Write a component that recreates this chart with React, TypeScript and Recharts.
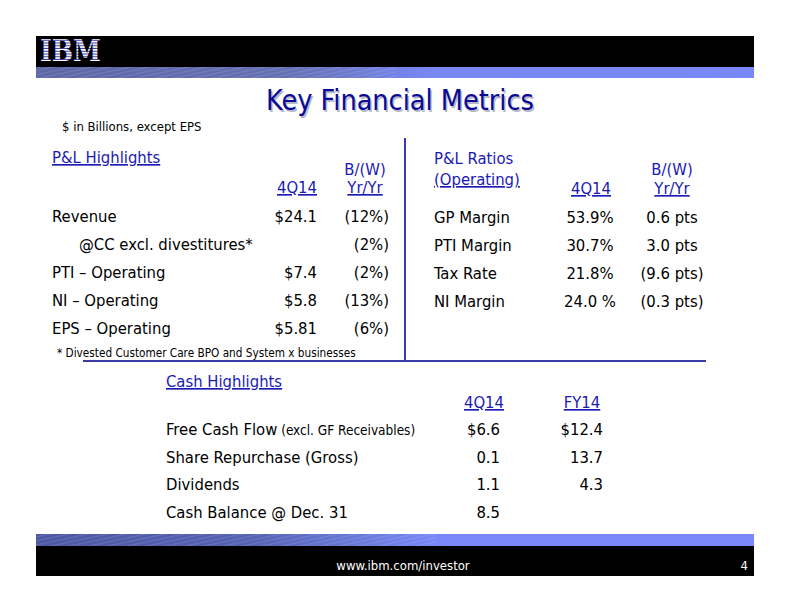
import { Surface, Layer, Text } from 'recharts';

// Slide copy
const title = 'Key Financial Metrics';
const unitsNote = '$ in Billions, except EPS';
const footnote = '* Divested Customer Care BPO and System x businesses';
const footerUrl = 'www.ibm.com/investor';
const pageNo = '4';

// P&L Highlights table
const plRows = ['Revenue', '@CC excl. divestitures*', 'PTI – Operating', 'NI – Operating', 'EPS – Operating'];
const plIndent = [false, true, false, false, false];
const plQtr = ['$24.1', '', '$7.4', '$5.8', '$5.81'];
const plYy = ['(12%)', '(2%)', '(2%)', '(13%)', '(6%)'];

// P&L Ratios table
const ratioRows = ['GP Margin', 'PTI Margin', 'Tax Rate', 'NI Margin'];
const ratioQtr = ['53.9%', '30.7%', '21.8%', '24.0 %'];
const ratioYy = ['0.6 pts', '3.0 pts', '(9.6 pts)', '(0.3 pts)'];

// Cash Highlights table
const cashRows = ['Free Cash Flow', 'Share Repurchase (Gross)', 'Dividends', 'Cash Balance @ Dec. 31'];
const cashNotes = ['(excl. GF Receivables)', '', '', ''];
const cashQtr = ['$6.6', '0.1', '1.1', '8.5'];
const cashFy = ['$12.4', '13.7', '4.3', ''];

const FONT = '"DejaVu Sans", Verdana, sans-serif';
const NAVY = '#0a0a96';
const LINK = '#1a1ab4';
const RULE = '#3a3aa8';
const FS = 16.5;

const txt = { fontFamily: FONT, fontStretch: 'condensed' as const };
const link = { ...txt, textDecoration: 'underline' };

export default function App() {
  return (
    <div style={{ position: 'absolute', left: 0, top: 0, width: 792, height: 612, background: '#fff' }}>
      <Surface width={792} height={612}>
        <defs>
          <linearGradient id="bandTop" x1="0" x2="1" y1="0" y2="0">
            <stop offset="0" stopColor="#5d66a6" />
            <stop offset="0.35" stopColor="#6470b4" />
            <stop offset="0.55" stopColor="#7888f4" />
            <stop offset="1" stopColor="#7888f8" />
          </linearGradient>
          <linearGradient id="bandBot" x1="0" x2="1" y1="0" y2="0">
            <stop offset="0" stopColor="#4c58a4" />
            <stop offset="0.3" stopColor="#5462b2" />
            <stop offset="0.5" stopColor="#7080e8" />
            <stop offset="0.56" stopColor="#7888f8" />
            <stop offset="1" stopColor="#7888f8" />
          </linearGradient>
          <pattern id="stripes" x="0" y="38" width="4" height="2.75" patternUnits="userSpaceOnUse">
            <rect width="4" height="2.75" fill="#3c3ca8" />
            <rect width="4" height="1.7" fill="#ffffff" />
          </pattern>
          <pattern id="wave" width="14" height="4" patternUnits="userSpaceOnUse" patternTransform="rotate(-12)">
            <rect width="14" height="1.2" fill="#ffffff" opacity="0.12" />
          </pattern>
        </defs>

        {/* header band */}
        <Layer>
          <rect x={36} y={36} width={718} height={31} fill="#000" />
          <rect x={36} y={67} width={718} height={11} fill="url(#bandTop)" />
          <rect x={36} y={67} width={360} height={11} fill="url(#wave)" />
          <text x={40} y={61} fontFamily='"DejaVu Serif", serif' fontWeight="bold" fontSize={30}
            textLength={61} lengthAdjust="spacingAndGlyphs" fill="url(#stripes)">IBM</text>
        </Layer>

        {/* title */}
        <Text x={400} y={110} textAnchor="middle" style={txt} fontSize={28.5} fill="#b8b8c8" dx={1.5} dy={1.5}>{title}</Text>
        <Text x={400} y={110} textAnchor="middle" style={txt} fontSize={28.5} fill={NAVY}>{title}</Text>
        <Text x={62} y={131} style={txt} fontSize={13} fill="#000">{unitsNote}</Text>

        {/* P&L Highlights */}
        <Layer>
          <Text x={52} y={163} style={link} fontSize={FS} fill={LINK}>P&L Highlights</Text>
          <Text x={365} y={175} textAnchor="middle" style={txt} fontSize={FS} fill={LINK}>B/(W)</Text>
          <Text x={317} y={193} textAnchor="end" style={link} fontSize={FS} fill={LINK}>4Q14</Text>
          <Text x={365} y={193} textAnchor="middle" style={link} fontSize={FS} fill={LINK}>Yr/Yr</Text>
          {plRows.map((r, i) => (
            <Layer key={r}>
              <Text x={plIndent[i] ? 79 : 52} y={222 + i * 28} style={txt} fontSize={FS} fill="#000">{r}</Text>
              {plQtr[i] ? <Text x={317} y={222 + i * 28} textAnchor="end" style={txt} fontSize={FS} fill="#000">{plQtr[i]}</Text> : null}
              <Text x={389} y={222 + i * 28} textAnchor="end" style={txt} fontSize={FS} fill="#000">{plYy[i]}</Text>
            </Layer>
          ))}
          <Text x={57} y={357} style={txt} fontSize={11.7} fill="#000">{footnote}</Text>
        </Layer>

        {/* divider rules */}
        <line x1={405} y1={138} x2={405} y2={361} stroke={RULE} strokeWidth={2} />
        <line x1={83} y1={361} x2={706} y2={361} stroke={RULE} strokeWidth={2} />

        {/* P&L Ratios */}
        <Layer>
          <Text x={434} y={164} style={txt} fontSize={FS} fill={LINK}>P&L Ratios</Text>
          <Text x={434} y={185} style={link} fontSize={FS} fill={LINK}>(Operating)</Text>
          <Text x={591} y={194} textAnchor="middle" style={link} fontSize={FS} fill={LINK}>4Q14</Text>
          <Text x={672} y={175} textAnchor="middle" style={txt} fontSize={FS} fill={LINK}>B/(W)</Text>
          <Text x={672} y={194} textAnchor="middle" style={link} fontSize={FS} fill={LINK}>Yr/Yr</Text>
          {ratioRows.map((r, i) => (
            <Layer key={r}>
              <Text x={434} y={223 + i * 28} style={txt} fontSize={FS} fill="#000">{r}</Text>
              <Text x={590} y={223 + i * 28} textAnchor="middle" style={txt} fontSize={FS} fill="#000">{ratioQtr[i]}</Text>
              <Text x={672} y={223 + i * 28} textAnchor="middle" style={txt} fontSize={FS} fill="#000">{ratioYy[i]}</Text>
            </Layer>
          ))}
        </Layer>

        {/* Cash Highlights */}
        <Layer>
          <Text x={166} y={387} style={link} fontSize={FS} fill={LINK}>Cash Highlights</Text>
          <Text x={484} y={408} textAnchor="middle" style={link} fontSize={FS} fill={LINK}>4Q14</Text>
          <Text x={582} y={408} textAnchor="middle" style={link} fontSize={FS} fill={LINK}>FY14</Text>
          {cashRows.map((r, i) => (
            <Layer key={r}>
              <text x={166} y={435 + i * 27.5} style={txt} fontSize={FS} fill="#000">
                {r}
                {cashNotes[i] ? <tspan fontSize={13.5}>{' ' + cashNotes[i]}</tspan> : null}
              </text>
              <Text x={500} y={435 + i * 27.5} textAnchor="end" style={txt} fontSize={FS} fill="#000">{cashQtr[i]}</Text>
              {cashFy[i] ? <Text x={603} y={435 + i * 27.5} textAnchor="end" style={txt} fontSize={FS} fill="#000">{cashFy[i]}</Text> : null}
            </Layer>
          ))}
        </Layer>

        {/* footer band */}
        <Layer>
          <rect x={36} y={534} width={718} height={12} fill="url(#bandBot)" />
          <rect x={36} y={534} width={400} height={12} fill="url(#wave)" />
          <rect x={36} y={546} width={718} height={30} fill="#000" />
          <Text x={403} y={570} textAnchor="middle" style={txt} fontSize={13} fill="#fff">{footerUrl}</Text>
          <Text x={748} y={570} textAnchor="end" style={txt} fontSize={13} fill="#fff">{pageNo}</Text>
        </Layer>
      </Surface>
    </div>
  );
}
